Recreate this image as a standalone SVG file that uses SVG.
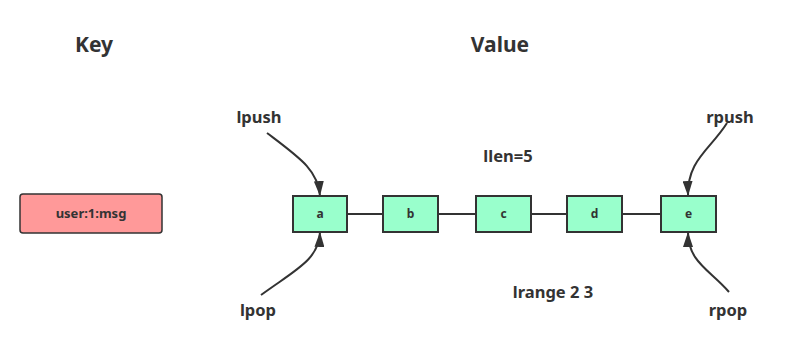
<svg xmlns="http://www.w3.org/2000/svg" width="786" height="347" viewBox="0 0 786 347">
<defs>
<style>
.t{font-family:"Noto Sans","Open Sans",sans-serif;font-weight:bold;fill:#333;text-anchor:middle}
.h{font-size:21px}
.l{font-size:16.5px}
.n{font-size:12px}
.k{font-size:13px}
.box{fill:#99ffcc;stroke:#333;stroke-width:2}
.key{fill:#ff9999;stroke:#333;stroke-width:1.5}
.c{fill:none;stroke:#333;stroke-width:2}
</style>
<marker id="ah" viewBox="0 0 15 10" refX="15" refY="5" markerWidth="15" markerHeight="10" markerUnits="userSpaceOnUse" orient="auto">
<path d="M0,0 L15,5 L0,10 Z" fill="#333"/>
</marker>
</defs>
<rect width="786" height="347" fill="#fff"/>
<text class="t h" x="94" y="52">Key</text>
<text class="t h" x="500" y="52">Value</text>
<g id="connectors">
<path class="c" d="M347,214 H383 M438,214 H476 M531,214 H567 M622,214 H661"/>
<path class="c" d="M267,133 C300,158 318,170 320,196" marker-end="url(#ah)"/>
<path class="c" d="M261,295 C295,270 319,260 320,232" marker-end="url(#ah)"/>
<path class="c" d="M727,123 C710,150 687,160 688,196" marker-end="url(#ah)"/>
<path class="c" d="M729,292 C710,270 688,262 688,232" marker-end="url(#ah)"/>
</g>
<g id="key"><rect class="key" x="20" y="194" width="142" height="39" rx="3"/><text class="t k" x="91" y="218">user:1:msg</text></g>
<g id="a"><rect class="box" x="293" y="196" width="54" height="36"/><text class="t n" x="320" y="218">a</text></g>
<g id="b"><rect class="box" x="383" y="196" width="55" height="36"/><text class="t n" x="410.5" y="218">b</text></g>
<g id="c"><rect class="box" x="476" y="196" width="55" height="36"/><text class="t n" x="503.5" y="218">c</text></g>
<g id="d"><rect class="box" x="567" y="196" width="55" height="36"/><text class="t n" x="594.5" y="218">d</text></g>
<g id="e"><rect class="box" x="661" y="196" width="55" height="36"/><text class="t n" x="688.5" y="218">e</text></g>
<g id="labels">
<text class="t l" x="259" y="123">lpush</text>
<text class="t l" x="258" y="316">lpop</text>
<text class="t l" x="730" y="123">rpush</text>
<text class="t l" x="728" y="316">rpop</text>
<text class="t l" x="508" y="162">llen=5</text>
<text class="t l" x="553" y="298">lrange 2 3</text>
</g>
</svg>
